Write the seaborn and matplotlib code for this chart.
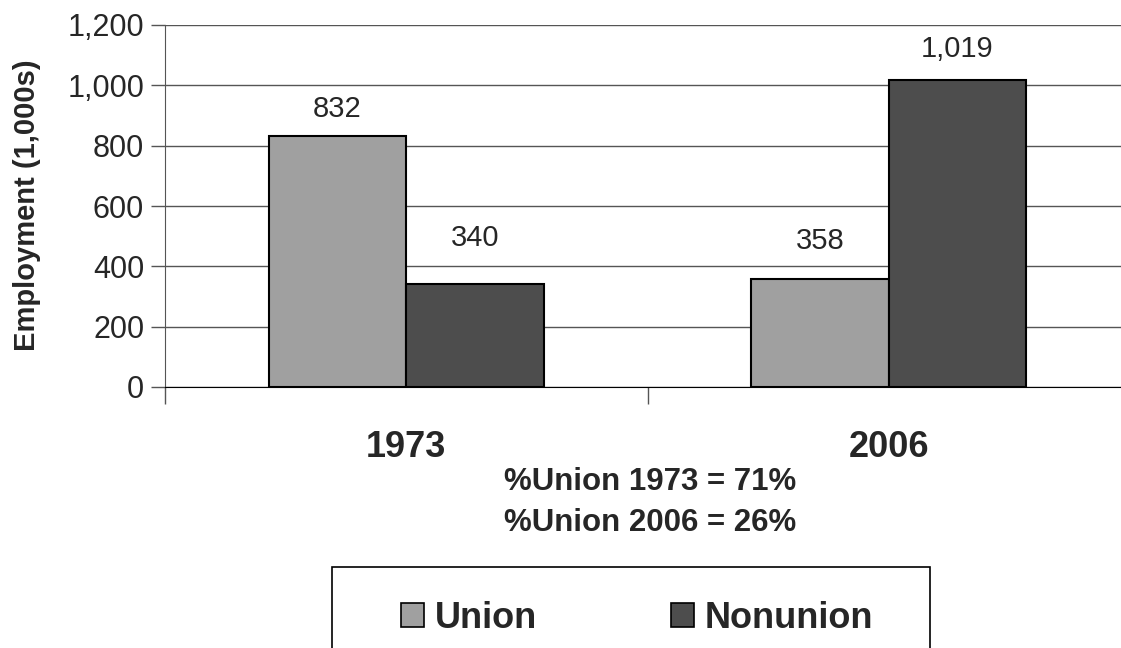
import matplotlib
matplotlib.use("Agg")
import matplotlib.pyplot as plt
import seaborn as sns
import pandas as pd
from matplotlib.patches import Patch, Rectangle

years = ["1973", "2006"]
series = ["Union", "Nonunion"]
union_vals = [832, 358]
nonunion_vals = [340, 1019]
yticks = [0, 200, 400, 600, 800, 1000, 1200]
note_lines = ["%Union 1973 = 71%", "%Union 2006 = 26%"]

colors = {"Union": "#A0A0A0", "Nonunion": "#4D4D4D"}

df = pd.DataFrame({
    "Year": years * 2,
    "Type": ["Union"] * len(years) + ["Nonunion"] * len(years),
    "Value": union_vals + nonunion_vals,
})

sns.set_style("white")
plt.rcParams["font.family"] = ["Liberation Sans", "DejaVu Sans"]

W, H = 1121, 648
fig = plt.figure(figsize=(W / 100, H / 100), dpi=100)
ax = fig.add_axes([165 / W, 1 - 387 / H, 965 / W, 362 / H])

sns.barplot(data=df, x="Year", y="Value", hue="Type", hue_order=series,
            palette=colors, width=0.57, edgecolor="black", linewidth=1.5,
            saturation=1, ax=ax, legend=False, zorder=3)

ax.set_ylim(0, 1200)
ax.set_xlim(-0.5, 1.5)
ax.set_yticks(yticks)
ax.set_yticklabels([f"{v:,}" for v in yticks], fontsize=22)
ax.yaxis.grid(True, color="#555555", linewidth=1, zorder=0)
ax.set_axisbelow(True)
for s in ["top", "right"]:
    ax.spines[s].set_visible(False)
ax.spines["left"].set_color("#555555")
ax.spines["bottom"].set_color("black")
ax.tick_params(axis="y", direction="out", length=10, width=1, color="#555555", left=True, pad=5)

# category labels, ticks at boundaries
ax.set_xticks([0, 1])
ax.set_xticklabels(years, fontsize=26, fontweight="bold")
ax.tick_params(axis="x", length=0, pad=31)
ax.set_xticks([-0.5, 0.5, 1.5], minor=True)
ax.tick_params(axis="x", which="minor", direction="out", length=12, width=1, color="#555555", bottom=True)

ax.set_xlabel("")
ax.set_ylabel("")
fig.text(27 / W, 1 - 205 / H, "Employment (1,000s)", rotation=90, ha="center", va="center",
         fontsize=21, fontweight="bold")

# data labels
offsets = {(0, "Union"): 88, (0, "Nonunion"): 155, (1, "Union"): 125, (1, "Nonunion"): 103}
for container, name in zip(ax.containers, series):
    for i, bar in enumerate(container):
        h = bar.get_height()
        ax.text(bar.get_x() + bar.get_width() / 2, h + offsets[(i, name)],
                f"{int(h):,}", ha="center", va="center", fontsize=21)

fig.text(650 / W, 1 - 482 / H, note_lines[0], ha="center", va="center",
         fontsize=22.5, fontweight="bold")
fig.text(650 / W, 1 - 523 / H, note_lines[1], ha="center", va="center",
         fontsize=22.5, fontweight="bold")

# legend box
fig.patches.append(Rectangle((332 / W, 1 - 700 / H), (930 - 332) / W, (700 - 567) / H,
                             transform=fig.transFigure, facecolor="white",
                             edgecolor="black", linewidth=1.2, zorder=1))
handles = [Patch(facecolor=colors[s], edgecolor="black", linewidth=1.2) for s in series]
leg = fig.legend(handles, series, loc="center", bbox_to_anchor=(637 / W, 1 - 618 / H),
                 ncol=2, frameon=False, prop={"size": 26, "weight": "bold"},
                 handlelength=0.65, handleheight=0.65, handletextpad=0.3,
                 columnspacing=3.7, borderpad=0, borderaxespad=0)
leg.set_zorder(2)

fig.savefig("out.png", dpi=100)
